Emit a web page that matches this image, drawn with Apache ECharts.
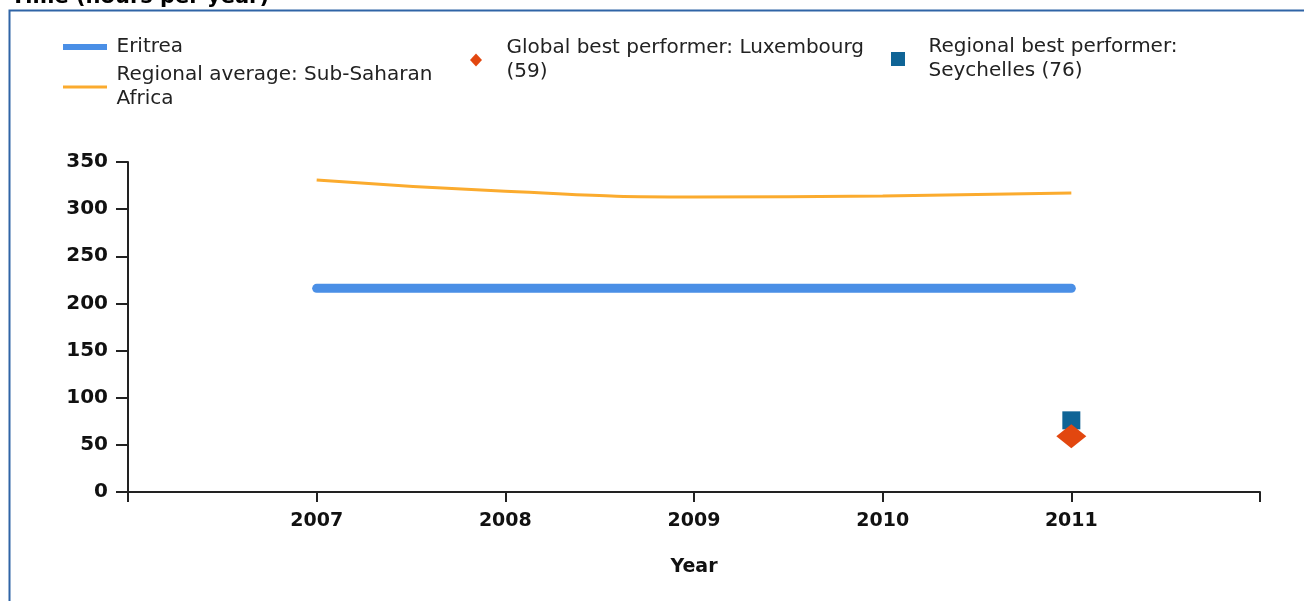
<!DOCTYPE html>
<html>
<head>
<meta charset="utf-8">
<title>Time (hours per year)</title>
<script src="https://cdn.jsdelivr.net/npm/echarts@6/dist/echarts.min.js"></script>
<style>
  html, body { margin: 0; padding: 0; background: #fff; }
  #main { width: 1304px; height: 601px; }
</style>
</head>
<body>
<div id="main"></div>
<script>
// 数据
var years = [2007, 2008, 2009, 2010, 2011];
var eritrea = [216, 216, 216, 216, 216];
var regionalAvg = [331, 319, 313, 314, 317];
var globalBest = [[2011, 59]];
var regionalBest = [[2011, 76]];
var yTicks = [0, 50, 100, 150, 200, 250, 300, 350];

var names = {
    eritrea: 'Eritrea',
    avg: 'Regional average: Sub-Saharan Africa',
    globalBest: 'Global best performer: Luxembourg (59)',
    regionalBest: 'Regional best performer: Seychelles (76)'
};
// 图例里的换行
var wrapped = {};
wrapped[names.eritrea] = 'Eritrea';
wrapped[names.avg] = 'Regional average: Sub-Saharan\nAfrica';
wrapped[names.globalBest] = 'Global best performer: Luxembourg\n(59)';
wrapped[names.regionalBest] = 'Regional best performer:\nSeychelles (76)';

var font = 'DejaVu Sans';
var legendText = function (gap) {
    return {
        fontFamily: font,
        fontSize: 20,
        color: '#222',
        lineHeight: 24,
        padding: [0, 0, 0, gap]
    };
};
var fmt = function (name) { return wrapped[name]; };

function pair(xs, ys) {
    var out = [];
    for (var i = 0; i < xs.length; i++) out.push([xs[i], ys[i]]);
    return out;
}

var myChart = echarts.init(document.getElementById('main'));

var option = {
    animation: false,
    title: {
        text: 'Time (hours per year)',
        left: 6,
        top: -18,
        textStyle: { fontFamily: font, fontSize: 21, fontWeight: 'bold', color: '#000' }
    },
    graphic: [{
        type: 'rect',
        left: 7,
        top: 8,
        shape: { width: 1310, height: 600 },
        style: { fill: 'none', stroke: '#2f64a6', lineWidth: 2 },
        silent: true
    }],
    legend: [
        {
            data: [{ name: names.eritrea, icon: 'rect' }],
            left: 63, top: 35, padding: 0,
            itemWidth: 44, itemHeight: 6,
            formatter: fmt, textStyle: legendText(4.5)
        },
        {
            data: [{ name: names.avg, icon: 'rect' }],
            left: 63, top: 63, padding: 0,
            itemWidth: 44, itemHeight: 3,
            formatter: fmt, textStyle: legendText(4.5)
        },
        {
            data: [{ name: names.globalBest, icon: 'diamond' }],
            left: 470, top: 36, padding: 0,
            itemWidth: 12, itemHeight: 13,
            formatter: fmt, textStyle: legendText(19.5)
        },
        {
            data: [{ name: names.regionalBest, icon: 'rect' }],
            left: 891, top: 35, padding: 0,
            itemWidth: 14, itemHeight: 14,
            formatter: fmt, textStyle: legendText(18.5)
        }
    ],
    grid: {
        left: 128,
        right: 44,
        top: 162,
        bottom: 109
    },
    xAxis: {
        type: 'value',
        min: 2006,
        max: 2012,
        interval: 1,
        name: 'Year',
        nameLocation: 'middle',
        nameGap: 66,
        nameTextStyle: { fontFamily: font, fontSize: 19, fontWeight: 'bold', color: '#111' },
        splitLine: { show: false },
        axisLine: { lineStyle: { color: '#222', width: 2 } },
        axisTick: { length: 10, lineStyle: { color: '#222', width: 2 } },
        axisLabel: {
            margin: 20,
            fontFamily: font, fontSize: 19, fontWeight: 'bold', color: '#111',
            formatter: function (v) { return years.indexOf(v) >= 0 ? String(v) : ''; }
        }
    },
    yAxis: {
        type: 'value',
        min: yTicks[0],
        max: yTicks[yTicks.length - 1],
        interval: 50,
        splitLine: { show: false },
        axisLine: { show: true, lineStyle: { color: '#222', width: 2 } },
        axisTick: { show: true, length: 12, lineStyle: { color: '#222', width: 2 } },
        axisLabel: {
            margin: 20,
            fontFamily: font, fontSize: 20, fontWeight: 'bold', color: '#111'
        }
    },
    series: [
        {
            name: names.eritrea,
            type: 'line',
            data: pair(years, eritrea),
            showSymbol: false,
            color: '#4a8fe6',
            lineStyle: { width: 9, cap: 'round', join: 'round' }
        },
        {
            name: names.avg,
            type: 'line',
            smooth: true,
            data: pair(years, regionalAvg),
            showSymbol: false,
            color: '#fbab2e',
            lineStyle: { width: 3 }
        },
        {
            name: names.regionalBest,
            type: 'scatter',
            data: regionalBest,
            symbol: 'rect',
            symbolSize: 18,
            color: '#0f6496',
            itemStyle: { opacity: 1 }
        },
        {
            name: names.globalBest,
            type: 'scatter',
            data: globalBest,
            symbol: 'diamond',
            symbolSize: [30, 24],
            color: '#e2470f',
            itemStyle: { opacity: 1 }
        }
    ]
};

myChart.setOption(option);
</script>
</body>
</html>
